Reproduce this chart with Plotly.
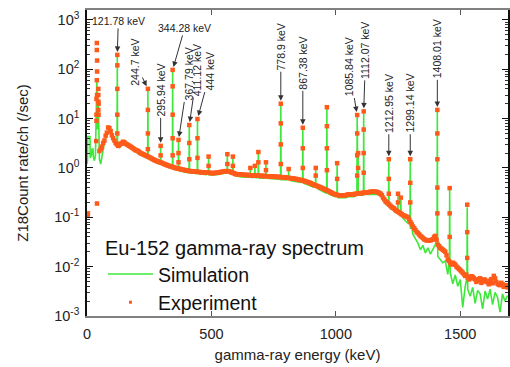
import math
import plotly.graph_objects as go

# ---------------- data ----------------
# low-energy region (below the continuum grid), simulation
sim_low_energy = [0, 2, 3, 12, 13, 18, 20, 24, 26, 30, 34, 36, 38, 39.5, 40.5, 42, 44, 45.5, 46.5, 48, 50, 55, 60]
sim_low_value = [1.2, 1.4, 4.3, 4.3, 1.6, 1.8, 2.4, 2.4, 1.6, 1.4, 1.8, 5.0, 20, 66, 30, 6.0, 8.0, 25, 12, 2.5, 1.5, 1.2, 1.7]

# low-energy region, experiment (Sm K x-ray cluster etc.)
exp_low_energy = [3, 3.5, 37, 38, 38, 38, 39.5, 39.5, 39.5, 40.5, 40.5, 40.5, 45.5, 45.5, 45.5, 45.5, 46.5, 46.5, 40]
exp_low_value = [0.11, 0.12, 3.5, 12, 25, 9, 60, 245, 340, 150, 90, 30, 15, 30, 40, 22, 20, 12, 0.19]

# continuum grid (keV)
cont_energy = [
    50, 60, 70, 80, 90, 100, 110, 120, 130, 140,
    150, 160, 170, 180, 190, 200, 210, 220, 230, 240,
    250, 260, 270, 280, 290, 300, 310, 320, 330, 340,
    350, 360, 370, 380, 390, 400, 410, 420, 430, 440,
    450, 460, 470, 480, 490, 500, 510, 520, 530, 540,
    550, 560, 570, 580, 590, 600, 610, 620, 630, 640,
    650, 660, 670, 680, 690, 700, 710, 720, 730, 740,
    750, 760, 770, 780, 790, 800, 810, 820, 830, 840,
    850, 860, 870, 880, 890, 900, 910, 920, 930, 940,
    950, 960, 970, 980, 990, 1000, 1010, 1020, 1030, 1040,
    1050, 1060, 1070, 1080, 1090, 1100, 1110, 1120, 1130, 1140,
    1150, 1160, 1170, 1180, 1190, 1200, 1210, 1220, 1230, 1240,
    1250, 1260, 1270, 1280, 1290, 1300, 1310, 1320, 1330, 1340,
    1350, 1360, 1370, 1380, 1390, 1400, 1410, 1420, 1430, 1440,
    1450, 1460, 1470, 1480, 1490, 1500, 1510, 1520, 1530, 1540,
    1550, 1560, 1570, 1580, 1590, 1600, 1610, 1620, 1630, 1640,
    1650, 1660, 1670, 1680, 1690]

cont_exp = [
    2.2, 2.7, 3.6, 5.2, 6.4, 4.6, 3.6, 3.0, 2.9, 3.2,
    3.3, 3.0, 2.8, 2.6, 2.4, 2.25, 2.1, 1.95, 1.85, 1.75,
    1.65, 1.55, 1.45, 1.38, 1.32, 1.27, 1.2, 1.15, 1.1, 1.06,
    1.02, 0.99, 0.96, 0.93, 0.91, 0.89, 0.87, 0.86, 0.85, 0.84,
    0.83, 0.82, 0.81, 0.8, 0.8, 0.79, 0.79, 0.8, 0.81, 0.83,
    0.85, 0.86, 0.85, 0.82, 0.78, 0.75, 0.74, 0.73, 0.73, 0.72,
    0.72, 0.71, 0.71, 0.7, 0.7, 0.69, 0.69, 0.68, 0.68, 0.67,
    0.67, 0.66, 0.66, 0.65, 0.65, 0.64, 0.63, 0.62, 0.61, 0.6,
    0.58, 0.57, 0.55, 0.53, 0.51, 0.49, 0.46, 0.44, 0.42, 0.4,
    0.38, 0.36, 0.34, 0.32, 0.3, 0.29, 0.28, 0.28, 0.28, 0.28,
    0.29, 0.29, 0.29, 0.3, 0.3, 0.31, 0.31, 0.32, 0.32, 0.33,
    0.33, 0.33, 0.32, 0.3, 0.25, 0.21, 0.19, 0.17, 0.155, 0.14,
    0.13, 0.12, 0.11, 0.105, 0.1, 0.08, 0.065, 0.055, 0.048, 0.042,
    0.038, 0.035, 0.034, 0.034, 0.036, 0.042, 0.028, 0.024, 0.022, 0.02,
    0.014, 0.012, 0.012, 0.011, 0.0095, 0.0085, 0.0075, 0.0065, 0.006, 0.0058,
    0.0062, 0.0055, 0.0052, 0.0058, 0.005, 0.0054, 0.0048, 0.0052, 0.0046, 0.0058,
    0.0045, 0.0042, 0.0044, 0.004, 0.0038]

# in-between channels of the experiment (keV)
mid_energy = [
    55, 65, 75, 85, 95, 105, 115, 125, 135, 145,
    155, 165, 175, 185, 195, 205, 215, 225, 235, 245,
    255, 265, 275, 285, 295, 305, 315, 325, 335, 345,
    355, 365, 375, 385, 395, 405, 415, 425, 435, 445,
    455, 465, 475, 485, 495, 505, 515, 525, 535, 545,
    555, 565, 575, 585, 595, 605, 615, 625, 635, 645,
    655, 665, 675, 685, 695, 705, 715, 725, 735, 745,
    755, 765, 775, 785, 795, 805, 815, 825, 835, 845,
    855, 865, 875, 885, 895, 905, 915, 925, 935, 945,
    955, 965, 975, 985, 995, 1005, 1015, 1025, 1035, 1045,
    1055, 1065, 1075, 1085, 1095, 1105, 1115, 1125, 1135, 1145,
    1155, 1165, 1175, 1185, 1195, 1205, 1215, 1225, 1235, 1245,
    1255, 1265, 1275, 1285, 1295, 1305, 1315, 1325, 1335, 1345,
    1355, 1365, 1375, 1385, 1395, 1405, 1415, 1425, 1435, 1445,
    1455, 1465, 1475, 1485, 1495, 1505, 1515, 1525, 1535, 1545,
    1555, 1565, 1575, 1585, 1595, 1605, 1615, 1625, 1635, 1645,
    1655, 1665, 1675, 1685]

mid_exp = [
    2.4, 3.2, 4.5, 6.6, 5.6, 4.0, 3.2, 2.8, 3.1, 3.4,
    3.1, 2.9, 2.7, 2.5, 2.3, 2.2, 2.0, 1.9, 1.8, 1.7,
    1.6, 1.5, 1.42, 1.35, 1.3, 1.24, 1.18, 1.12, 1.08, 1.04,
    1.0, 0.97, 0.95, 0.92, 0.9, 0.88, 0.86, 0.85, 0.84, 0.83,
    0.82, 0.81, 0.8, 0.8, 0.79, 0.78, 0.79, 0.8, 0.82, 0.84,
    0.86, 0.86, 0.84, 0.8, 0.76, 0.74, 0.74, 0.73, 0.72, 0.72,
    0.71, 0.71, 0.7, 0.7, 0.69, 0.69, 0.68, 0.68, 0.67, 0.67,
    0.66, 0.66, 0.65, 0.65, 0.64, 0.63, 0.62, 0.61, 0.6, 0.59,
    0.57, 0.56, 0.54, 0.52, 0.5, 0.47, 0.45, 0.43, 0.41, 0.39,
    0.37, 0.35, 0.33, 0.31, 0.295, 0.285, 0.28, 0.28, 0.28, 0.285,
    0.29, 0.29, 0.295, 0.3, 0.305, 0.31, 0.315, 0.32, 0.325, 0.33,
    0.33, 0.325, 0.31, 0.28, 0.23, 0.2, 0.18, 0.16, 0.15, 0.135,
    0.125, 0.115, 0.108, 0.102, 0.09, 0.072, 0.06, 0.05, 0.045, 0.04,
    0.036, 0.034, 0.034, 0.035, 0.04, 0.035, 0.026, 0.023, 0.021, 0.017,
    0.013, 0.011, 0.0115, 0.01, 0.009, 0.008, 0.007, 0.0068, 0.0055, 0.0064,
    0.0058, 0.0049, 0.0056, 0.0047, 0.0055, 0.005, 0.0044, 0.0056, 0.0065, 0.0049,
    0.0043, 0.0047, 0.0039, 0.0042]

cont_sim = [
    1.5, 1.7, 3.3, 4.8, 5.9, 4.2, 3.3, 2.8, 2.6, 2.9,
    3.0, 2.8, 2.6, 2.4, 2.2, 2.05, 1.9, 1.8, 1.7, 1.6,
    1.5, 1.42, 1.33, 1.27, 1.2, 1.16, 1.1, 1.05, 1.0, 0.97,
    0.94, 0.91, 0.88, 0.85, 0.83, 0.81, 0.8, 0.79, 0.78, 0.77,
    0.76, 0.75, 0.74, 0.73, 0.73, 0.72, 0.72, 0.73, 0.74, 0.76,
    0.78, 0.79, 0.78, 0.75, 0.71, 0.68, 0.67, 0.66, 0.66, 0.65,
    0.65, 0.64, 0.64, 0.63, 0.63, 0.62, 0.62, 0.61, 0.61, 0.6,
    0.6, 0.59, 0.59, 0.58, 0.58, 0.57, 0.56, 0.55, 0.54, 0.53,
    0.52, 0.51, 0.49, 0.47, 0.45, 0.43, 0.41, 0.39, 0.37, 0.35,
    0.33, 0.31, 0.3, 0.28, 0.27, 0.26, 0.25, 0.25, 0.25, 0.25,
    0.26, 0.26, 0.26, 0.27, 0.27, 0.28, 0.28, 0.29, 0.29, 0.3,
    0.3, 0.3, 0.29, 0.27, 0.22, 0.19, 0.17, 0.15, 0.14, 0.125,
    0.115, 0.105, 0.095, 0.085, 0.075, 0.058, 0.045, 0.036, 0.03, 0.022,
    0.027, 0.019, 0.024, 0.018, 0.023, 0.028, 0.016, 0.014, 0.012, 0.013,
    0.007, 0.0075, 0.0045, 0.0068, 0.004, 0.0055, 0.0015, 0.004, 0.0035, 0.0025,
    0.0038, 0.0018, 0.0033, 0.0028, 0.0014, 0.0032, 0.0022, 0.0035, 0.0017, 0.003,
    0.0024, 0.0012, 0.0028, 0.002, 0.0026]

# full-energy peaks
peak_energy = [121.78, 244.7, 295.94, 344.28, 367.79, 411.12, 444.0, 488.7, 564.0, 586.3,
               656.5, 674.7, 688.7, 719.3, 778.9, 810.45, 867.38, 919.3, 964.08, 1005.3,
               1085.84, 1089.7, 1112.07, 1212.95, 1249.9, 1261.3, 1299.14, 1408.01, 1457.6, 1528.1]
peak_base = [2.9, 1.7, 1.27, 1.04, 0.97, 0.87, 0.84, 0.8, 0.86, 0.8,
             0.71, 0.71, 0.7, 0.68, 0.65, 0.63, 0.56, 0.44, 0.35, 0.29,
             0.3, 0.3, 0.31, 0.18, 0.13, 0.12, 0.09, 0.04, 0.013, 0.006]
peak_sim_top = [185, 38, 2.6, 92, 3.4, 7.0, 9.2, 1.6, 1.8, 1.6,
                0.95, 1.05, 2.0, 1.25, 19, 0.9, 6.1, 0.95, 16, 1.2,
                11, 1.9, 13.5, 1.4, 0.28, 0.23, 1.4, 14, 0.37, 0.16]
peak_exp = [[195, 120, 40, 12, 5], [40, 15, 5, 2.4], [2.8, 1.8], [97, 45, 12, 4, 1.8],
            [3.7, 2.0, 1.3], [7.4, 3.2, 1.5], [9.8, 4, 1.6], [1.7, 1.1], [1.9, 1.2], [1.7, 1.1],
            [1.0], [1.1], [2.1, 1.3], [1.3, 0.9], [20, 8, 3, 1.2], [0.95], [6.5, 2.5, 1.0],
            [1.0, 0.7], [17, 7, 2.5, 0.9], [1.25, 0.6], [11.8, 5, 1.8, 0.7], [2.0, 1.0],
            [14, 6, 2, 0.8], [1.5, 0.6, 0.3], [0.3, 0.2], [0.25], [1.5, 0.5, 0.2],
            [15, 5, 1.5, 0.4, 0.12], [0.39, 0.12, 0.04], [0.18, 0.05, 0.015]]

# labelled peaks
label_energy = [121.78, 244.7, 295.94, 344.28, 367.79, 411.12, 444.0, 778.9, 867.38,
                1085.84, 1112.07, 1212.95, 1299.14, 1408.01]
label_text = ["121.78 keV", "244.7 keV", "295.94 keV", "344.28 keV", "367.79 keV",
              "411.12 keV", "444 keV", "778.9 keV", "867.38 keV", "1085.84 keV",
              "1112.07 keV", "1212.95 keV", "1299.14 keV", "1408.01 keV"]

y_tick_values = [1e-3, 1e-2, 1e-1, 1, 10, 100, 1000]
y_tick_labels = ["10<sup>-3</sup>", "10<sup>-2</sup>", "10<sup>-1</sup>", "10<sup>0</sup>",
                 "10<sup>1</sup>", "10<sup>2</sup>", "10<sup>3</sup>"]
x_tick_values = [0, 500, 1000, 1500]

# ---------------- styles / layout-only parameters ----------------
label_angle = [0, -90, -90, 0, -90, -90, -90, -90, -90, -90, -90, -90, -90, -90]
label_ax = [1, -13, 0, 12, 10, 8, 13, 0, 0, -8, 2, 0, 0, 0]
label_ay = [-34, -27, -56, -42, -66, -55, -48, -57, -65, -48, -61, -56, -56, -61]

GREEN = "#3ee83a"
ORANGE = "#ff5a1a"
FONT = "Liberation Sans, Arial, sans-serif"

# ---------------- build traces ----------------
sim_pts = list(zip(sim_low_energy, sim_low_value))
sim_pts += [(e, v) for e, v in zip(cont_energy, cont_sim) if e > 60]
for e, b, t in zip(peak_energy, peak_base, peak_sim_top):
    sim_pts += [(e - 1.0, b), (e, t), (e + 1.0, b)]
sim_pts.sort(key=lambda p: p[0])

exp_x = list(exp_low_energy) + list(cont_energy) + list(mid_energy)
exp_y = list(exp_low_value) + list(cont_exp) + list(mid_exp)
for e, vals in zip(peak_energy, peak_exp):
    exp_x += [e] * len(vals)
    exp_y += vals

fig = go.Figure()
fig.add_trace(go.Scatter(
    x=[p[0] for p in sim_pts], y=[p[1] for p in sim_pts],
    mode="lines", name="Simulation",
    line=dict(color=GREEN, width=1.6)))
fig.add_trace(go.Scatter(
    x=exp_x, y=exp_y, mode="markers", name="Experiment", showlegend=False,
    marker=dict(color=ORANGE, size=4.5, symbol="square", line=dict(width=0))))
# legend entry for the experiment (small dot as in the reference legend)
fig.add_trace(go.Scatter(
    x=[None], y=[None], mode="markers", name="Experiment",
    marker=dict(color=ORANGE, size=3, symbol="square", line=dict(width=0))))

peak_top_lookup = {e: vals[0] for e, vals in zip(peak_energy, peak_exp)}
for e, txt, ang, ax, ay in zip(label_energy, label_text, label_angle, label_ax, label_ay):
    fig.add_annotation(
        x=e, y=math.log10(peak_top_lookup[e]), xref="x", yref="y",
        text=txt, textangle=ang, showarrow=True,
        ax=ax, ay=ay, arrowhead=2, arrowsize=1.1, arrowwidth=1,
        arrowcolor="#333333", standoff=3,
        font=dict(family=FONT, size=10.5, color="#222222"))

fig.update_layout(
    width=510, height=367,
    margin=dict(l=87, r=0, t=10, b=51),
    paper_bgcolor="white", plot_bgcolor="white",
    font=dict(family=FONT, color="#222222"),
    showlegend=True,
    legend=dict(
        x=0.038, y=0.285, xanchor="left", yanchor="top",
        bgcolor="rgba(0,0,0,0)",
        title=dict(text="Eu-152 gamma-ray spectrum", font=dict(family=FONT, size=20, color="#111111")),
        font=dict(family=FONT, size=19.5, color="#111111"),
        itemwidth=45, tracegroupgap=0),
    xaxis=dict(
        range=[0, 1692], tickvals=x_tick_values, ticks="inside", ticklen=5,
        tickcolor="#555555", showline=True, linecolor="#808080", linewidth=2,
        mirror="allticks", showgrid=False, zeroline=False, ticklabelstandoff=4,
        tickfont=dict(family=FONT, size=14.5, color="#222222"),
        title=dict(text="gamma-ray energy (keV)", font=dict(family=FONT, size=15, color="#222222"), standoff=8)),
    yaxis=dict(
        type="log", range=[-3, 3.2], tickvals=y_tick_values, ticktext=y_tick_labels,
        ticks="inside", ticklen=6, tickcolor="#111111",
        minor=dict(ticks="inside", ticklen=3, tickcolor="#333333", dtick="D1", showgrid=False),
        showline=True, linecolor="#111111", linewidth=1.5, mirror="allticks",
        showgrid=False, zeroline=False, ticklabelstandoff=3,
        tickfont=dict(family=FONT, size=14.5, color="#222222"),
        title=dict(text="Z18Count rate/ch (/sec)", font=dict(family=FONT, size=15, color="#222222"), standoff=22)),
)

fig.write_html("out.html")
